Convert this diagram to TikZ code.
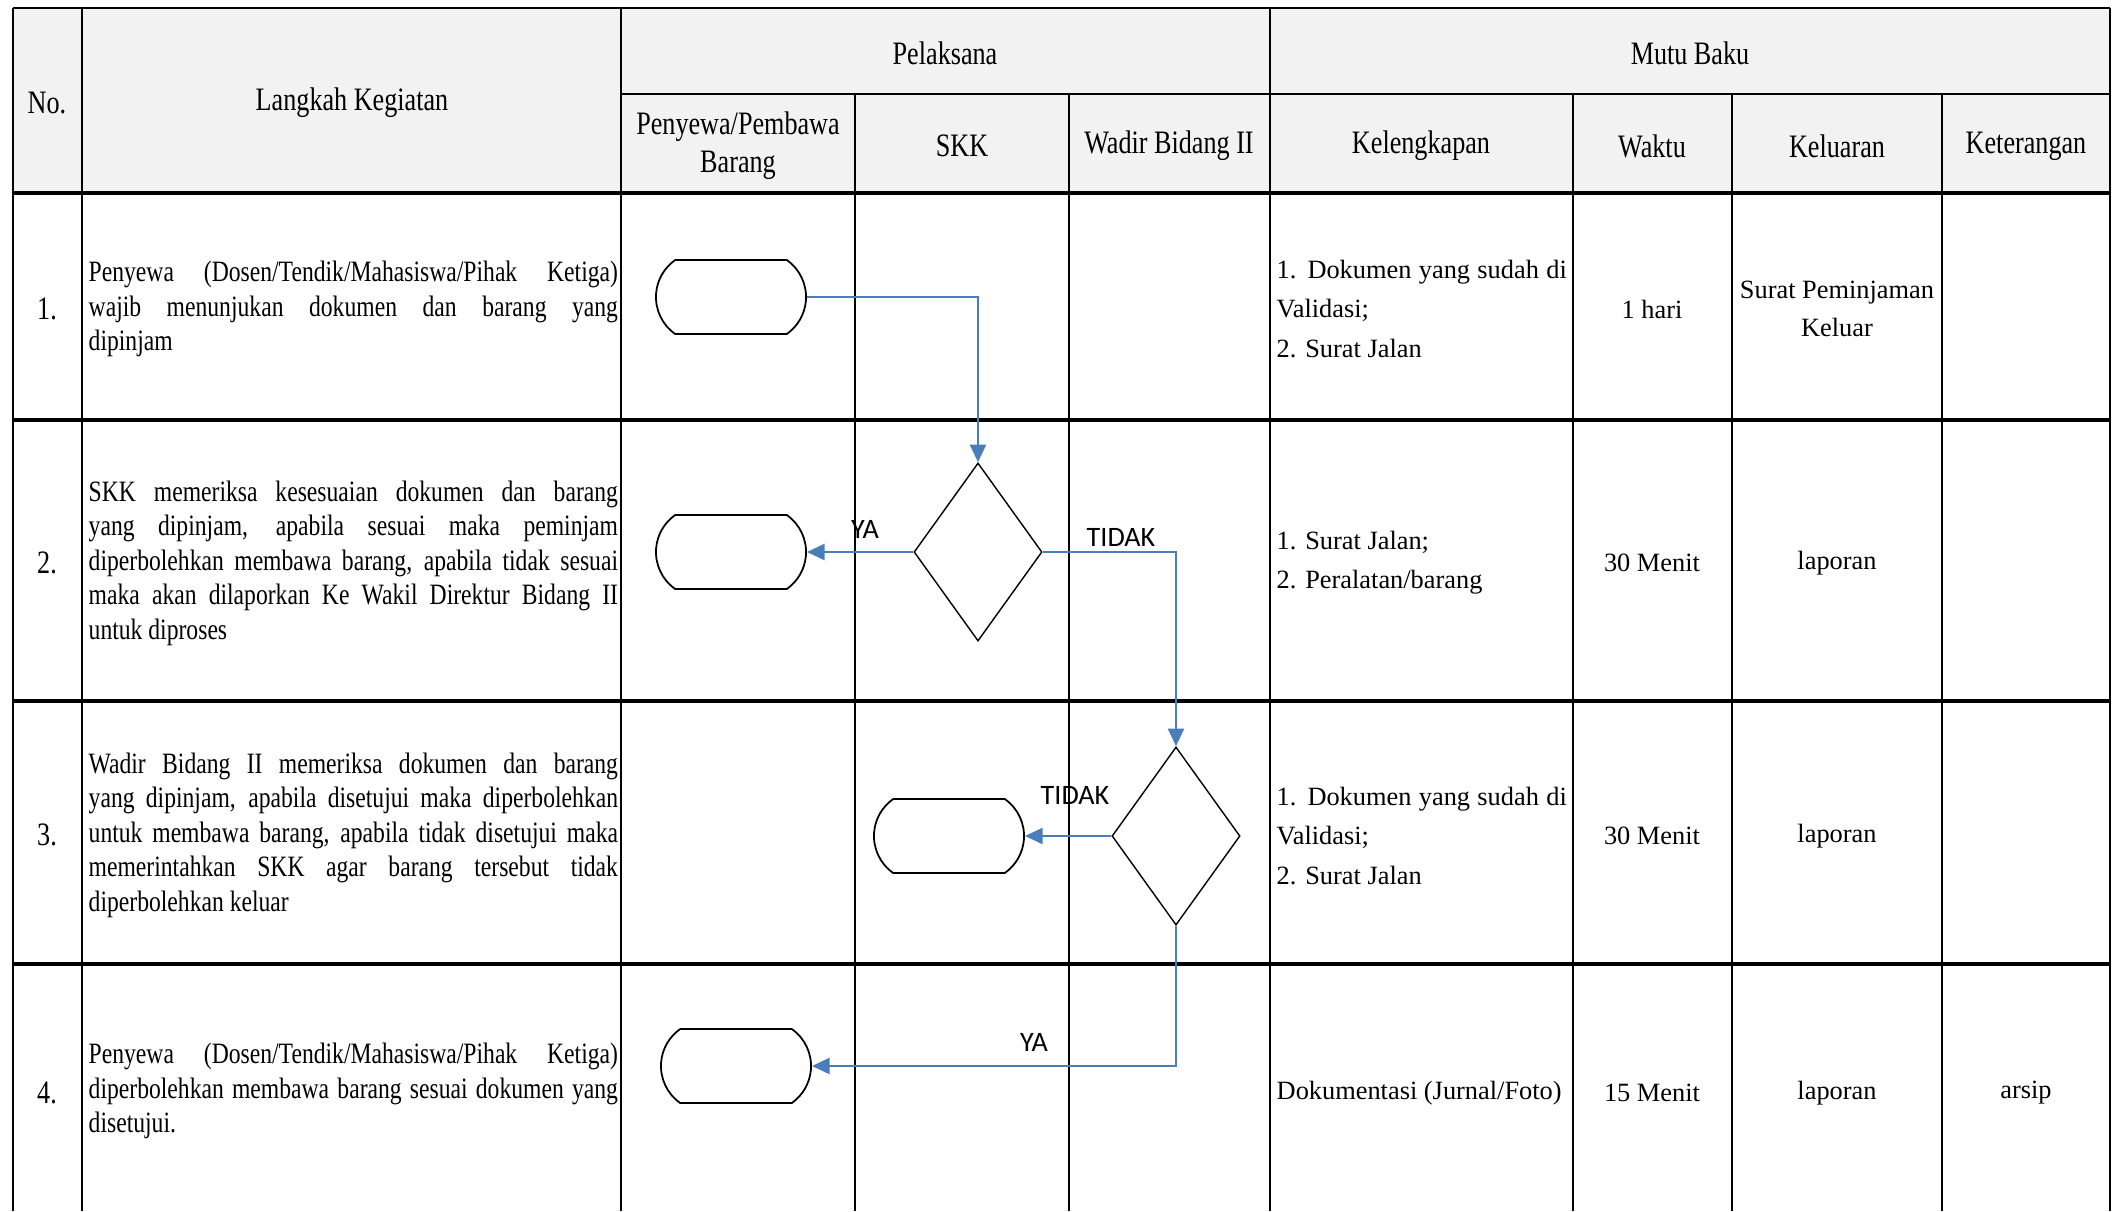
\documentclass[tikz,border=0pt]{standalone}
\usepackage{fontspec}
\setmainfont{Liberation Serif}
\newfontfamily\narrowfont[FakeStretch=0.8]{Liberation Serif}
\newfontfamily\flowfont{Carlito}
\usetikzlibrary{shapes.geometric,shapes.misc,arrows.meta}
\definecolor{flowblue}{HTML}{4A7EBB}
\tikzset{
  head/.style={font=\narrowfont\fontsize{9.3}{10.8}\selectfont,align=center},
  num/.style={font=\narrowfont\fontsize{9.3}{10.8}\selectfont},
  steptext/.style={anchor=west,inner sep=0pt,text width=5.29cm,align=justify,font=\narrowfont\fontsize{8.4}{9.8}\selectfont},
  kel/.style={anchor=west,inner sep=0pt,text width=2.9cm,align=justify,font=\fontsize{7.5}{11.1}\selectfont},
  cell/.style={align=center,font=\fontsize{7.5}{10.8}\selectfont},
  terminal/.style={draw,rounded rectangle,rounded rectangle arc length=110,minimum width=1.5cm,minimum height=0.74cm,inner sep=0pt,line width=0.5pt},
  decision/.style={draw,diamond,minimum width=1.28cm,minimum height=1.78cm,inner sep=0pt,line width=0.4pt},
  flow/.style={flowblue,line width=0.75pt,-{Triangle[length=5pt,width=4.5pt]}},
  lbl/.style={font=\flowfont\fontsize{8}{9.6}\selectfont}
}
\begin{document}
\begin{tikzpicture}[x=0.01cm,y=-0.01cm]
\useasboundingbox (0,0) rectangle (2117,1211);
\fill[gray!10] (13,8) rectangle (2110,193);

%--------------------------------- table lines
\draw[thick] (13,8) -- (2110,8) ;
\draw[thick] (621,94) -- (2110,94) ;
\draw[line width=1.2pt] (13,193) -- (2110,193) ;
\draw[line width=1pt] (13,420) -- (2110,420) ;
\draw[line width=1pt] (13,701) -- (2110,701) ;
\draw[line width=1pt] (13,964) -- (2110,964) ;

\draw[thick] (13,8) -- (13,1211) ;
\draw[thick] (82,8) -- (82,1211) ;
\draw[thick] (621,8) -- (621,1211) ;
\draw[thick] (855,94) -- (855,1211) ;
\draw[thick] (1069,94) -- (1069,1211) ;
\draw[thick] (1270,8) -- (1270,1211) ;
\draw[thick] (1573,94) -- (1573,1211) ;
\draw[thick] (1732,94) -- (1732,1211) ;
\draw[thick] (1942,94) -- (1942,1211) ;
\draw[thick] (2110,8) -- (2110,1211) ;

%--------------------------------- header
\node[head] (hno) at (47,103) {No.};
\node[head] (hstep) at (352,103) {Langkah Kegiatan};
\node[head] (hpel) at (945,53) {Pelaksana};
\node[head] (hmutu) at (1690,53) {Mutu Baku};
\node[head] (hpeny) at (738,146) {Penyewa/Pembawa\\Barang};
\node[head] (hskk) at (962,146) {SKK};
\node[head] (hwadir) at (1169,146) {Wadir Bidang II};
\node[head] (hkel) at (1421,146) {Kelengkapan};
\node[head] (hwaktu) at (1652,146) {Waktu};
\node[head] (hkeluar) at (1837,146) {Keluaran};
\node[head] (hket) at (2026,146) {Keterangan};

%--------------------------------- row 1
\node[num] (no1) at (47,309) {1.};
\node[steptext] (step1) at (88,309) {Penyewa (Dosen/Tendik/Mahasiswa/Pihak Ketiga)\linebreak wajib menunjukan dokumen dan barang yang\linebreak dipinjam};
\node[kel] (kel1) at (1276,309) {1. Dokumen yang sudah di\linebreak Validasi;\newline 2. Surat Jalan};
\node[cell] (waktu1) at (1652,309) {1 hari};
\node[cell] (keluar1) at (1837,309) {Surat Peminjaman\\Keluar};

%--------------------------------- row 2
\node[num] (no2) at (47,563) {2.};
\node[steptext] (step2) at (88,563) {SKK memeriksa kesesuaian dokumen dan barang\linebreak yang dipinjam, apabila sesuai maka peminjam\linebreak diperbolehkan membawa barang, apabila tidak sesuai\linebreak maka akan dilaporkan Ke Wakil Direktur Bidang II\linebreak untuk diproses};
\node[kel] (kel2) at (1276,563) {1. Surat Jalan;\newline 2. Peralatan/barang};
\node[cell] (waktu2) at (1652,563) {30 Menit};
\node[cell] (keluar2) at (1837,563) {laporan};

%--------------------------------- row 3
\node[num] (no3) at (47,835) {3.};
\node[steptext] (step3) at (88,835) {Wadir Bidang II memeriksa dokumen dan barang\linebreak yang dipinjam, apabila disetujui maka diperbolehkan\linebreak untuk membawa barang, apabila tidak disetujui maka\linebreak memerintahkan SKK agar barang tersebut tidak\linebreak diperbolehkan keluar};
\node[kel] (kel3) at (1276,836) {1. Dokumen yang sudah di\linebreak Validasi;\newline 2. Surat Jalan};
\node[cell] (waktu3) at (1652,836) {30 Menit};
\node[cell] (keluar3) at (1837,836) {laporan};

%--------------------------------- row 4
\node[num] (no4) at (47,1093) {4.};
\node[steptext] (step4) at (88,1091) {Penyewa (Dosen/Tendik/Mahasiswa/Pihak Ketiga)\linebreak diperbolehkan membawa barang sesuai dokumen yang\linebreak disetujui.};
\node[kel] (kel4) at (1276,1093) {Dokumentasi (Jurnal/Foto)};
\node[cell] (waktu4) at (1652,1093) {15 Menit};
\node[cell] (keluar4) at (1837,1093) {laporan};
\node[cell] (ket4) at (2026,1093) {arsip};

%--------------------------------- flow
\node[terminal] (t1) at (731,297) {};
\node[decision] (d1) at (978,552) {};
\node[terminal] (t2) at (731,552) {};
\node[decision] (d2) at (1176,836) {};
\node[terminal] (t3) at (949,836) {};
\node[terminal] (t4) at (736,1066) {};

\draw[flow] (t1.east) -| (d1.north);
\draw[flow] (d1.west) -- (t2.east);
\draw[flow] (d1.east) -| (d2.north);
\draw[flow] (d2.west) -- (t3.east);
\draw[flow] (d2.south) |- (t4.east);

\node[lbl] (ya1) at (865,529) {YA};
\node[lbl] (tidak1) at (1121,537) {TIDAK};
\node[lbl] (tidak2) at (1075,795) {TIDAK};
\node[lbl] (ya2) at (1034,1042) {YA};
\end{tikzpicture}
\end{document}
